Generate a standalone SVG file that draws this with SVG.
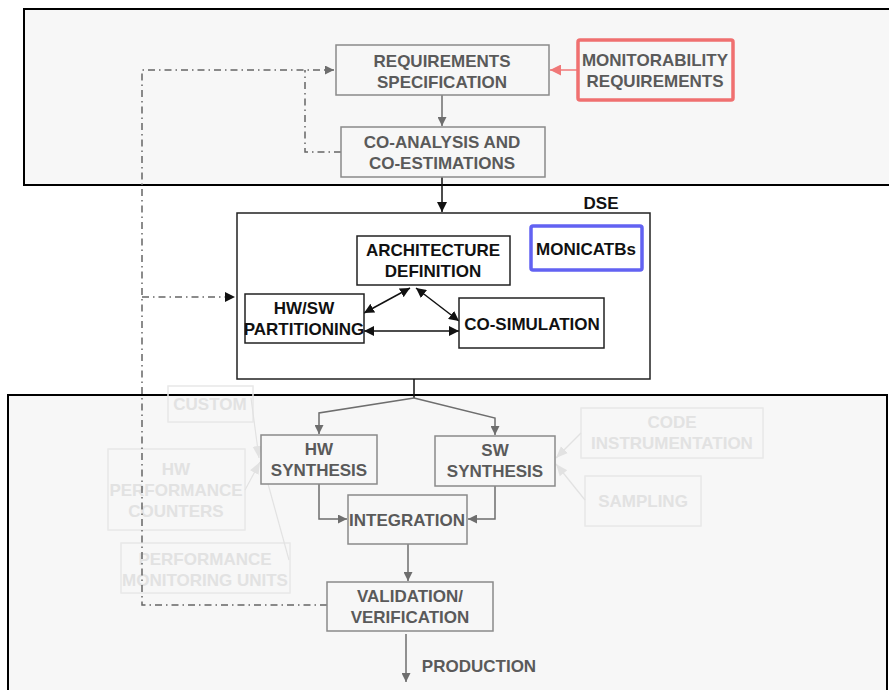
<svg xmlns="http://www.w3.org/2000/svg" width="889" height="690" viewBox="0 0 889 690">
<defs>
<style>
text{font-family:"Liberation Sans",Arial,sans-serif;font-weight:bold;font-size:17px;text-anchor:middle}
.g rect{fill:#f7f7f7;stroke:#8a8a8a;stroke-width:1.5}
.g text{fill:#5a5a5a}
.d rect{fill:#fff;stroke:#222;stroke-width:1.5}
.d text{fill:#111}
.f rect{fill:none;stroke:#e8e8e8;stroke-width:1.5}
.f text{fill:#e2e2e2}
.gl{fill:none;stroke:#6e6e6e;stroke-width:1.5}
.bl{fill:none;stroke:#111;stroke-width:1.5}
.dd{fill:none;stroke:#666;stroke-width:1.5;stroke-dasharray:7 4 1.5 4}
.fl{fill:none;stroke:#e2e2e2;stroke-width:1.2}
</style>
<marker id="ag" viewBox="0 0 10 10" refX="10" refY="5" markerWidth="9" markerHeight="9" markerUnits="userSpaceOnUse" orient="auto-start-reverse"><path d="M0,0 L10,5 L0,10 z" fill="#6e6e6e"/></marker>
<marker id="ab" viewBox="0 0 10 10" refX="10" refY="5" markerWidth="10" markerHeight="10" markerUnits="userSpaceOnUse" orient="auto-start-reverse"><path d="M0,0 L10,5 L0,10 z" fill="#111"/></marker>
<marker id="ar" viewBox="0 0 10 10" refX="10" refY="5" markerWidth="11" markerHeight="11" markerUnits="userSpaceOnUse" orient="auto"><path d="M0,0 L10,5 L0,10 z" fill="#f07878"/></marker>
<marker id="af" viewBox="0 0 10 10" refX="10" refY="5" markerWidth="12" markerHeight="12" markerUnits="userSpaceOnUse" orient="auto"><path d="M0,1 L10,5 L0,9 z" fill="#e2e2e2"/></marker>
</defs>
<rect width="889" height="690" fill="#fff"/>
<g id="panel-top"><rect x="24" y="9" width="866" height="176" fill="#f7f7f7" stroke="#000" stroke-width="2"/></g>
<g id="panel-bottom"><rect x="8" y="395" width="879" height="300" fill="#f7f7f7" stroke="#000" stroke-width="2"/></g>
<g id="dse" class="d"><rect x="237" y="213" width="413" height="166" stroke-width="2"/><text x="601" y="209">DSE</text></g>

<g id="faint-nodes" class="f">
<g id="custom"><rect x="168" y="386" width="85" height="36"/><text x="210" y="410">CUSTOM</text></g>
<g id="hwpc"><rect x="108" y="449" width="137" height="81"/><text x="176" y="475">HW</text><text x="176" y="496">PERFORMANCE</text><text x="176" y="517">COUNTERS</text></g>
<g id="pmu"><rect x="121" y="543" width="169" height="50"/><text x="205" y="565">PERFORMANCE</text><text x="205" y="586">MONITORING UNITS</text></g>
<g id="codeinst"><rect x="581" y="408" width="182" height="50"/><text x="672" y="428">CODE</text><text x="672" y="449">INSTRUMENTATION</text></g>
<g id="sampling"><rect x="585" y="476" width="116" height="50"/><text x="643" y="507">SAMPLING</text></g>
</g>

<g id="connectors">
<path class="dd" d="M327,605 H142 V70 H334" marker-end="url(#ag)"/>
<path class="dd" d="M341,152 H305 V70"/>
<path class="dd" d="M142,297 H235" stroke="#111" marker-end="url(#ab)"/>
<path d="M578,70 H550" stroke="#f07878" stroke-width="1.5" marker-end="url(#ar)"/>
<path class="gl" d="M442,95 V126" marker-end="url(#ag)"/>
<path class="bl" d="M442,177 V212" marker-end="url(#ab)"/>
<path class="bl" d="M410,288 L364,313" marker-start="url(#ab)" marker-end="url(#ab)"/>
<path class="bl" d="M416,288 L459,321" marker-start="url(#ab)" marker-end="url(#ab)"/>
<path class="bl" d="M364,331 H459" marker-start="url(#ab)" marker-end="url(#ab)"/>
<path class="bl" d="M414,379 V398"/>
<path class="gl" d="M414,398 L319,413 V434" marker-end="url(#ag)"/>
<path class="gl" d="M414,398 L495,418 V435" marker-end="url(#ag)"/>
<path class="gl" d="M319,484 V519 H347" marker-end="url(#ag)"/>
<path class="gl" d="M495,486 V519 H468" marker-end="url(#ag)"/>
<path class="gl" d="M408,544 V581" marker-end="url(#ag)"/>
<path class="gl" d="M406,634 V682" marker-end="url(#ag)"/>
<path class="fl" d="M251,398 L259,458" marker-end="url(#af)"/>
<path class="fl" d="M245,490 L260,462" marker-end="url(#af)"/>
<path class="fl" d="M289,560 L262,462"/>
<path class="fl" d="M581,433 L556,458" marker-end="url(#af)"/>
<path class="fl" d="M585,500 L556,464" marker-end="url(#af)"/>
</g>

<g id="req-spec" class="g"><rect x="336" y="45" width="213" height="50"/><text x="442" y="67">REQUIREMENTS</text><text x="442" y="88">SPECIFICATION</text></g>
<g id="co-analysis" class="g"><rect x="341" y="127" width="204" height="50"/><text x="442" y="148">CO-ANALYSIS AND</text><text x="442" y="169">CO-ESTIMATIONS</text></g>
<g id="monitorability"><rect x="578" y="40" width="155" height="60" rx="2" fill="#f7f7f7" stroke="#f07070" stroke-width="3.5"/><text x="655" y="66" fill="#5a5a5a">MONITORABILITY</text><text x="655" y="87" fill="#5a5a5a">REQUIREMENTS</text></g>

<g id="arch" class="d"><rect x="357" y="236" width="153" height="49"/><text x="433" y="256">ARCHITECTURE</text><text x="433" y="277">DEFINITION</text></g>
<g id="hwsw" class="d"><rect x="245" y="294" width="119" height="49"/><text x="304" y="314">HW/SW</text><text x="304" y="335">PARTITIONING</text></g>
<g id="cosim" class="d"><rect x="459" y="298" width="145" height="50"/><text x="532" y="330">CO-SIMULATION</text></g>
<g id="monicatbs"><rect x="531" y="226" width="111" height="44" rx="2" fill="#fff" stroke="#6262f2" stroke-width="3.5"/><text x="586" y="255" fill="#111">MONICATBs</text></g>

<g id="hw-synth" class="g"><rect x="261" y="435" width="116" height="49"/><text x="319" y="455">HW</text><text x="319" y="476">SYNTHESIS</text></g>
<g id="sw-synth" class="g"><rect x="435" y="436" width="120" height="50"/><text x="495" y="456">SW</text><text x="495" y="477">SYNTHESIS</text></g>
<g id="integration" class="g"><rect x="348" y="495" width="119" height="49"/><text x="407" y="526">INTEGRATION</text></g>
<g id="validation" class="g"><rect x="327" y="582" width="166" height="49"/><text x="410" y="602">VALIDATION/</text><text x="410" y="623">VERIFICATION</text></g>
<g id="production"><text x="479" y="672" fill="#5a5a5a">PRODUCTION</text></g>
</svg>
